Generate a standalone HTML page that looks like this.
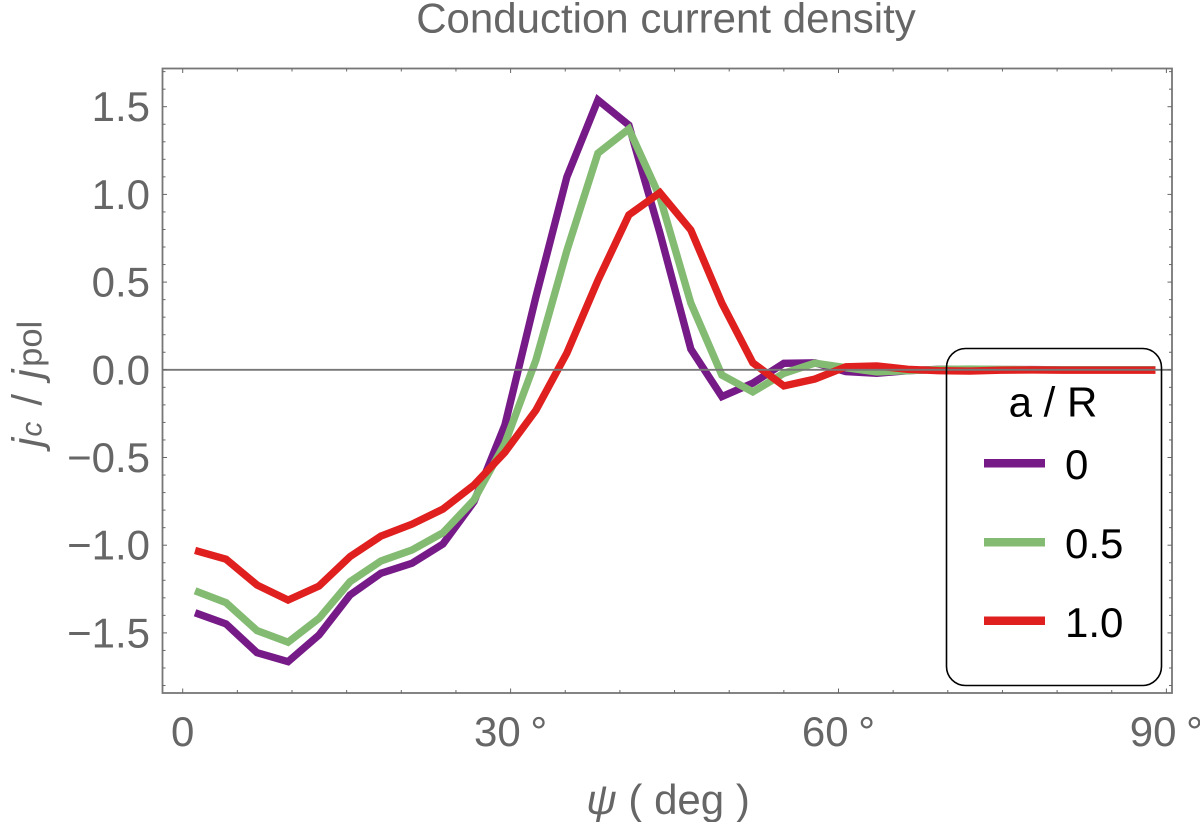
<!DOCTYPE html>
<html lang="en">
<head>
<meta charset="utf-8">
<title>Conduction current density</title>
<style>
  html, body { margin: 0; padding: 0; background: #fff; }
  svg { display: block; }
  text { font-family: "Liberation Sans", sans-serif; }
</style>
</head>
<body>
<svg id="chart" xmlns="http://www.w3.org/2000/svg" width="1200" height="822" viewBox="0 0 1200 822">
  <rect x="0" y="0" width="1200" height="822" fill="#fff"/>
  <text x="666" y="32.5" font-size="42" fill="#666" text-anchor="middle">Conduction current density</text>
  <text transform="translate(41.5 447) rotate(-90)" font-size="42" fill="#666"><tspan font-style="italic">j</tspan><tspan dx="1" font-size="30" font-style="italic">c</tspan><tspan dx="16">/</tspan><tspan dx="15.3" font-style="italic">j</tspan><tspan dx="2.5" font-size="34.5">pol</tspan></text>
  <text x="668" y="814" font-size="42" fill="#666" text-anchor="middle"><tspan font-style="italic">ψ</tspan> ( deg )</text>
  <g id="series-layer"></g>
  <g id="axis-layer"></g>
  <g>
    <rect x="946.5" y="348.5" width="215" height="337" rx="19" ry="19" fill="none" stroke="#000" stroke-width="1.6"/>
    <text x="1053" y="416.5" font-size="42" fill="#000" text-anchor="middle">a / R</text>
    <g>
      <rect x="984" y="459" width="61" height="8.5" fill="#761a87"/>
      <text x="1065" y="479" font-size="42" fill="#000">0</text>
    </g>
    <g>
      <rect x="984" y="538" width="61" height="8.5" fill="#84bb72"/>
      <text x="1065" y="558" font-size="42" fill="#000">0.5</text>
    </g>
    <g>
      <rect x="984" y="616.5" width="61" height="8.5" fill="#e01f1f"/>
      <text x="1065" y="637" font-size="42" fill="#000">1.0</text>
    </g>
  </g>
</svg>
<script>
const psiValues = [1.13, 3.97, 6.8, 9.64, 12.47, 15.31, 18.14, 20.98, 23.81, 26.65, 29.48, 32.32, 35.15, 37.99, 40.82, 43.66, 46.49, 49.33, 52.16, 55.0, 57.83, 60.67, 63.5, 66.34, 69.17, 72.01, 74.84, 77.68, 80.51, 83.35, 86.18, 89.0];
const seriesA0 = [-1.385, -1.449, -1.613, -1.664, -1.512, -1.284, -1.16, -1.103, -0.993, -0.752, -0.315, 0.417, 1.1, 1.538, 1.395, 0.78, 0.118, -0.153, -0.076, 0.037, 0.04, -0.01, -0.02, -0.005, 0.003, 0.002, 0.001, 0.001, 0, 0, 0, 0];
const seriesA05 = [-1.26, -1.328, -1.487, -1.553, -1.417, -1.208, -1.09, -1.027, -0.929, -0.742, -0.42, 0.056, 0.68, 1.235, 1.373, 0.985, 0.38, -0.03, -0.126, -0.02, 0.038, 0.012, -0.012, -0.005, 0.002, 0.004, 0.002, 0, 0, 0, 0, 0];
const seriesA10 = [-1.03, -1.08, -1.227, -1.313, -1.233, -1.065, -0.948, -0.88, -0.794, -0.657, -0.47, -0.23, 0.096, 0.51, 0.883, 1.01, 0.797, 0.38, 0.04, -0.092, -0.053, 0.017, 0.022, 0.003, -0.005, -0.007, -0.002, -0.001, -0.002, -0.002, -0.002, -0.002];
const xTickValues = [0, 30, 60, 90];
const xTickLabels = ["0", "30 °", "60 °", "90 °"];
const yTickValues = [1.5, 1.0, 0.5, 0, -0.5, -1.0, -1.5];
const yTickLabels = ["1.5", "1.0", "0.5", "0.0", "−0.5", "−1.0", "−1.5"];

const NS = "http://www.w3.org/2000/svg";
const frame = { left: 162.5, right: 1172, top: 68.5, bottom: 693 };
function xScale(v) { return 182.7 + v * 10.93; }
function yScale(v) { return 369.8 - v * 175.4; }

function make(tag, attrs, parent) {
  const el = document.createElementNS(NS, tag);
  for (const k in attrs) el.setAttribute(k, attrs[k]);
  parent.appendChild(el);
  return el;
}

const seriesLayer = document.getElementById("series-layer");
function drawSeries(values, color, name) {
  const pts = values.map((v, i) => xScale(psiValues[i]).toFixed(2) + "," + yScale(v).toFixed(2)).join(" ");
  const line = make("polyline", { points: pts, fill: "none", stroke: color, "stroke-width": 7.4, "stroke-linejoin": "miter", "stroke-miterlimit": 6 }, seriesLayer);
  
  
}
drawSeries(seriesA0, "#761a87", "series-a-over-r-0");
drawSeries(seriesA05, "#84bb72", "series-a-over-r-0-5");
drawSeries(seriesA10, "#e01f1f", "series-a-over-r-1-0");

const axisLayer = document.getElementById("axis-layer");
const zero = make("line", { x1: frame.left, x2: frame.right, y1: yScale(0), y2: yScale(0), stroke: "#777", "stroke-width": 1.8 }, axisLayer);



const box = make("rect", { x: frame.left, y: frame.top, width: frame.right - frame.left, height: frame.bottom - frame.top, fill: "none", stroke: "#777", "stroke-width": 1.8 }, axisLayer);



for (let d = 0; d <= 90; d += 5) {
  const len = d % 30 === 0 ? 4.5 : 3;
  const x = xScale(d);
  const b = make("line", { x1: x, x2: x, y1: frame.bottom, y2: frame.bottom - len, stroke: "#666", "stroke-width": 1 }, axisLayer);
  
  
  const t = make("line", { x1: x, x2: x, y1: frame.top, y2: frame.top + len, stroke: "#666", "stroke-width": 1 }, axisLayer);
  
  
}
for (let n = -18; n <= 17; n++) {
  const len = n % 5 === 0 ? 4.5 : 3;
  const y = yScale(n / 10);
  const l = make("line", { x1: frame.left, x2: frame.left + len, y1: y, y2: y, stroke: "#666", "stroke-width": 1 }, axisLayer);
  
  
  const r = make("line", { x1: frame.right, x2: frame.right - len, y1: y, y2: y, stroke: "#666", "stroke-width": 1 }, axisLayer);
  
  
}
xTickValues.forEach((v, i) => {
  const t = make("text", { x: xScale(v), y: 746, "font-size": 42, fill: "#666", "text-anchor": "middle", "word-spacing": "-2" }, axisLayer);
  t.textContent = xTickLabels[i];
  
  
});
yTickValues.forEach((v, i) => {
  const t = make("text", { x: 150, y: yScale(v) + 14.5, "font-size": 42, fill: "#666", "text-anchor": "end" }, axisLayer);
  t.textContent = yTickLabels[i];
  
  
});
</script>
</body>
</html>
